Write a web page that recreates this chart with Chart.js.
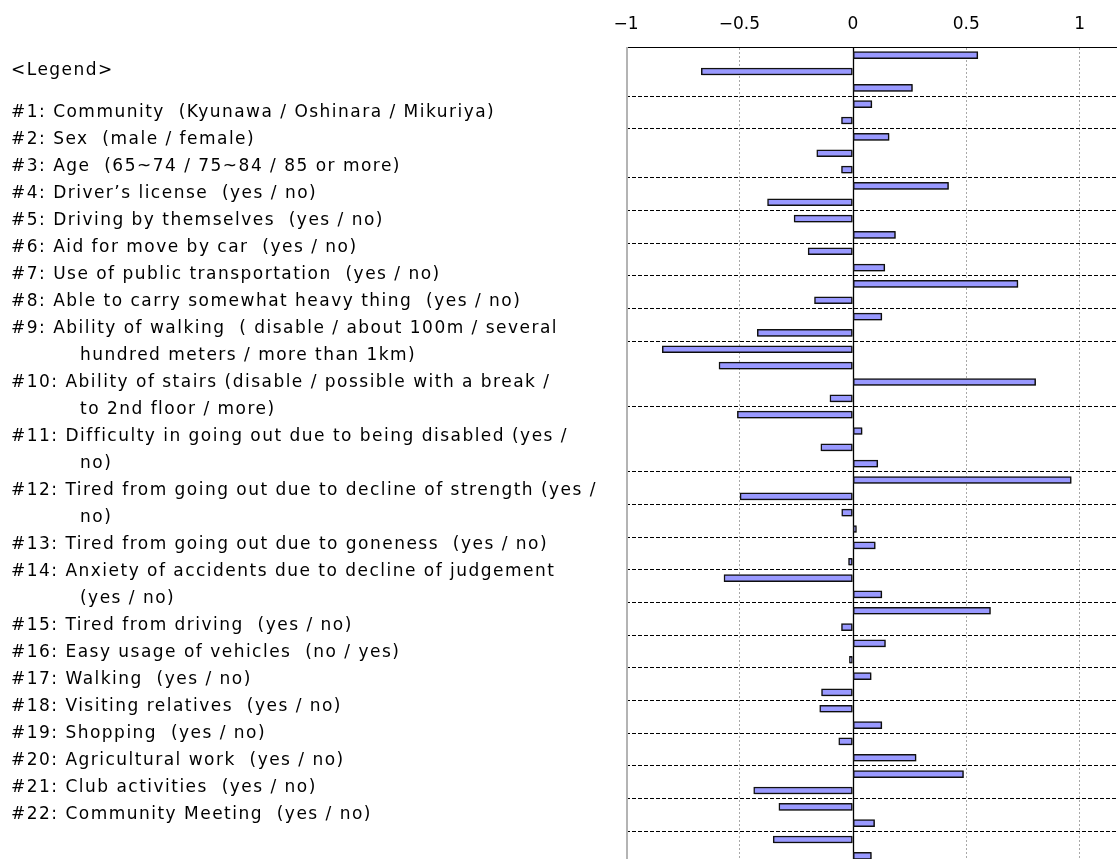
<!DOCTYPE html>
<html>
<head>
<meta charset="utf-8">
<script src="https://cdn.jsdelivr.net/npm/chart.js@4.4.0/dist/chart.umd.min.js"></script>
<style>
html, body { margin: 0; padding: 0; overflow: hidden; background: #fff; width: 1117px; height: 859px; }
#wrap { position: absolute; left: 0; top: 0; width: 1117px; height: 859px; overflow: hidden; }
#chart { position: absolute; left: 0; top: 0; }
#legend { position: absolute; left: 11px; top: 0; font-family: "DejaVu Sans"; font-size: 17px; color: #000; white-space: pre; }
#legend div { position: absolute; left: 0; height: 27px; line-height: 27px; }
</style>
</head>
<body>
<div id="wrap">
  <canvas id="chart" width="1125" height="864"></canvas>
  <div id="legend"></div>
</div>
<script>
// ---------- data ----------
const legendTitle = "<Legend>";
const legendItems = [
  ["#1: Community  (Kyunawa / Oshinara / Mikuriya)"],
  ["#2: Sex  (male / female)"],
  ["#3: Age  (65~74 / 75~84 / 85 or more)"],
  ["#4: Driver\u2019s license  (yes / no)"],
  ["#5: Driving by themselves  (yes / no)"],
  ["#6: Aid for move by car  (yes / no)"],
  ["#7: Use of public transportation  (yes / no)"],
  ["#8: Able to carry somewhat heavy thing  (yes / no)"],
  ["#9: Ability of walking  ( disable / about 100m / several", "hundred meters / more than 1km)"],
  ["#10: Ability of stairs (disable / possible with a break /", "to 2nd floor / more)"],
  ["#11: Difficulty in going out due to being disabled (yes /", "no)"],
  ["#12: Tired from going out due to decline of strength (yes /", "no)"],
  ["#13: Tired from going out due to goneness  (yes / no)"],
  ["#14: Anxiety of accidents due to decline of judgement", "(yes / no)"],
  ["#15: Tired from driving  (yes / no)"],
  ["#16: Easy usage of vehicles  (no / yes)"],
  ["#17: Walking  (yes / no)"],
  ["#18: Visiting relatives  (yes / no)"],
  ["#19: Shopping  (yes / no)"],
  ["#20: Agricultural work  (yes / no)"],
  ["#21: Club activities  (yes / no)"],
  ["#22: Community Meeting  (yes / no)"]
];

const categories = [
  "#1 Kyunawa", "#1 Oshinara", "#1 Mikuriya",
  "#2 male", "#2 female",
  "#3 65~74", "#3 75~84", "#3 85 or more",
  "#4 yes", "#4 no",
  "#5 yes", "#5 no",
  "#6 yes", "#6 no",
  "#7 yes", "#7 no",
  "#8 yes", "#8 no",
  "#9 disable", "#9 about 100m", "#9 several hundred meters", "#9 more than 1km",
  "#10 disable", "#10 possible with a break", "#10 to 2nd floor", "#10 more",
  "#11 yes", "#11 no",
  "#12 yes", "#12 no",
  "#13 yes", "#13 no",
  "#14 yes", "#14 no",
  "#15 yes", "#15 no",
  "#16 no", "#16 yes",
  "#17 yes", "#17 no",
  "#18 yes", "#18 no",
  "#19 yes", "#19 no",
  "#20 yes", "#20 no",
  "#21 yes", "#21 no",
  "#22 yes", "#22 no"
];
const categoryGroups = [3, 2, 3, 2, 2, 2, 2, 2, 4, 4, 2, 2, 2, 2, 2, 2, 2, 2, 2, 2, 2, 2];

const values = [
  0.551, -0.668, 0.263,
  0.084, -0.050,
  0.160, -0.159, -0.050,
  0.422, -0.376,
  -0.259, 0.188,
  -0.197, 0.141,
  0.728, -0.169,
  0.128, -0.421,
  -0.840, -0.590, 0.806, -0.101,
  -0.509, 0.041, -0.141, 0.110,
  0.963, -0.497,
  -0.049, 0.016,
  0.099, -0.019,
  -0.568, 0.128,
  0.607, -0.050,
  0.144, -0.015,
  0.081, -0.138,
  -0.146, 0.128,
  -0.062, 0.279,
  0.488, -0.437,
  -0.326, 0.096,
  -0.351, 0.082
];

const xMin = -1;
const xMax = 1.2;
const xTickValues = [-1, -0.5, 0, 0.5, 1];

// ---------- legend text ----------
const legendEl = document.getElementById('legend');
const lineH = 27, firstLineCenter = 111, titleCenter = 69, indent = 69;
function addLine(text, center, left) {
  const d = document.createElement('div');
  d.textContent = text;
  d.style.top = (center - lineH / 2) + 'px';
  d.style.left = left + 'px';
  legendEl.appendChild(d);
}
addLine(legendTitle, titleCenter, 0);
let row = 0;
legendItems.forEach(item => {
  item.forEach((t, k) => { addLine(t, firstLineCenter + row * lineH, k === 0 ? 0 : indent); row++; });
});
// fit letter spacing so that the longest line matches the reference width
(function fit() {
  const c = document.createElement('canvas').getContext('2d');
  c.font = '17px "DejaVu Sans"';
  const ref = legendItems[11][0];
  const w = c.measureText(ref).width;
  const ls = (586 - w) / ref.length;
  legendEl.style.letterSpacing = Math.max(-1, Math.min(3, ls)) + 'px';
})();

// ---------- chart ----------
const boundaries = new Set();
let acc = 0;
categoryGroups.forEach(n => { acc += n; boundaries.add(acc); });
boundaries.delete(categories.length);

const refLines = {
  id: 'refLines',
  beforeDatasetsDraw(chart) {
    const { ctx, chartArea: a, scales: { x } } = chart;
    ctx.save();
    const xl = x.getPixelForValue(xMin);
    ctx.strokeStyle = '#b4b4b4';
    ctx.lineWidth = 2;
    ctx.beginPath(); ctx.moveTo(xl + 1, a.top); ctx.lineTo(xl + 1, a.bottom); ctx.stroke();
    const x0 = Math.round(x.getPixelForValue(0)) + 0.5;
    ctx.strokeStyle = '#000';
    ctx.lineWidth = 1.3;
    ctx.beginPath(); ctx.moveTo(x0, a.top); ctx.lineTo(x0, a.bottom); ctx.stroke();
    ctx.restore();
    // soft shadow under the bars
    ctx.save();
    ctx.shadowColor = 'rgba(0,0,0,0.28)';
    ctx.shadowOffsetX = 1;
    ctx.shadowOffsetY = 1;
    ctx.shadowBlur = 1;
  },
  afterDatasetsDraw(chart) {
    chart.ctx.restore();
  }
};

new Chart(document.getElementById('chart'), {
  type: 'bar',
  data: {
    labels: categories,
    datasets: [{
      data: values,
      backgroundColor: '#9999ff',
      borderColor: '#111',
      borderWidth: 1.5,
      borderSkipped: false,
      barThickness: 7
    }]
  },
  options: {
    indexAxis: 'y',
    responsive: false,
    maintainAspectRatio: false,
    animation: false,
    layout: { padding: { left: 626, top: 0, right: 0, bottom: 0 } },
    plugins: { legend: { display: false }, tooltip: { enabled: false } },
    scales: {
      x: {
        type: 'linear',
        position: 'top',
        min: xMin,
        max: xMax,
        afterBuildTicks: s => { s.ticks = xTickValues.map(v => ({ value: v })); },
        afterFit: s => { s.height = 47; },
        ticks: {
          font: { family: 'DejaVu Sans', size: 17 },
          color: '#000',
          padding: 12,
          maxRotation: 0,
          autoSkip: false,
          callback: v => v < 0 ? '\u2212' + Math.abs(v) : String(v)
        },
        grid: {
          drawTicks: false,
          lineWidth: 1,
          color: c => (c.tick && (c.tick.value === 0 || c.tick.value === xMin)) ? 'rgba(0,0,0,0)' : '#a8a8a8'
        },
        border: { display: true, color: '#000', width: 1, dash: [2, 2] }
      },
      y: {
        type: 'category',
        offset: true,
        afterFit: s => { s.width = 0; },
        ticks: { display: false },
        grid: {
          offset: true,
          drawTicks: false,
          lineWidth: 1,
          color: c => boundaries.has(c.index) ? '#000' : 'rgba(0,0,0,0)'
        },
        border: { display: false, dash: [4, 2] }
      }
    }
  },
  plugins: [refLines]
});
</script>
</body>
</html>
